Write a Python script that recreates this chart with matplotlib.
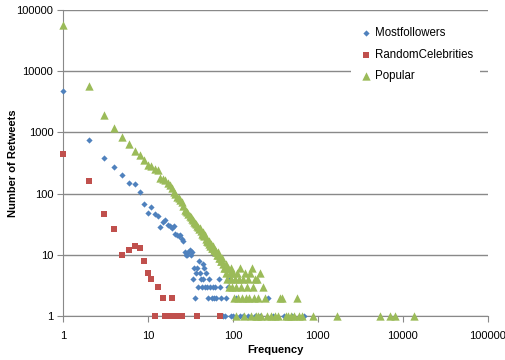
import matplotlib.pyplot as plt

plt.rcParams['font.family'] = ['Liberation Sans', 'DejaVu Sans']

# Mostfollowers (blue diamonds)
mf_freq = [1, 2, 3, 4, 5, 6, 7, 8, 9, 10, 11, 12, 13, 14, 15, 16, 17, 18, 19, 20,
           21, 22, 23, 24, 25, 26, 27, 28, 29, 30, 31, 32, 33, 34, 35, 36, 37, 38, 39, 40,
           41, 42, 43, 44, 45, 46, 47, 48, 50, 51, 52, 54, 56, 58, 60, 62, 64, 68, 70, 73,
           76, 80, 84, 87, 92, 96, 100, 110, 120, 130, 150, 180, 210, 256, 300, 400, 500, 685]
mf_count = [4700, 750, 380, 270, 205, 148, 142, 107, 67, 48, 60, 46, 43, 29, 35, 37, 31, 30, 28, 30,
            22, 21, 20, 21, 18, 17, 11, 10, 10, 11, 12, 10, 11, 4, 6, 2, 5, 6, 3, 8,
            5, 4, 3, 7, 4, 6, 3, 5, 3, 2, 4, 3, 2, 3, 2, 3, 2, 4, 3, 2,
            1, 1, 2, 3, 4, 1, 1, 2, 1, 1, 1, 1, 1, 2, 1, 1, 1, 1]

# RandomCelebrities (red squares)
rc_freq = [1, 2, 3, 4, 5, 6, 7, 8, 9, 10, 11, 13, 15, 19, 12, 16, 17, 18, 20, 21, 22, 24, 25, 38, 70]
rc_count = [450, 160, 47, 26, 10, 12, 14, 13, 8, 5, 4, 3, 2, 2, 1, 1, 1, 1, 1, 1, 1, 1, 1, 1, 1]

# Popular (green triangles)
pop_freq = [1, 2, 3, 4, 5, 6, 7, 8, 9, 10, 11, 12, 13, 14, 15, 16, 17, 18, 19, 20,
            21, 22, 23, 24, 25, 26, 27, 28, 29, 30, 31, 32, 33, 34, 35, 36, 37, 38, 39, 40,
            41, 42, 43, 44, 45, 46, 47, 48, 49, 50, 51, 52, 53, 54, 55, 56, 57, 58, 59, 60,
            61, 62, 63, 64, 65, 66, 67, 68, 70, 72, 73, 74, 76, 78, 80, 82, 84, 86, 88, 90,
            92, 94, 96, 98, 100, 102, 105, 108, 110, 112, 115, 118, 121, 124, 127, 130, 134, 138, 142, 145,
            150, 155, 158, 162, 168, 173, 178, 182, 186, 190, 195, 200, 207, 215, 227, 236, 250, 280, 310, 340,
            360, 380, 420, 450, 480, 530, 565, 600, 650, 880, 1690, 5400, 7000, 8100, 13500]
pop_count = [58000, 5800, 1950, 1180, 840, 656, 490, 423, 350, 290, 280, 250, 240, 183, 177, 167, 150, 137, 125, 107,
             98, 89, 85, 80, 73, 62, 55, 52, 50, 46, 44, 41, 39, 37, 34, 33, 32, 30, 29, 26,
             27, 25, 22, 24, 21, 20, 21, 18, 17, 17, 16, 15, 17, 14, 15, 13, 13, 14, 13, 12,
             12, 12, 11, 11, 10, 10, 11, 9, 9, 8, 8, 9, 7, 6, 6, 7, 5, 4, 6, 3,
             5, 4, 6, 3, 5, 2, 4, 3, 1, 5, 2, 4, 6, 3, 2, 4, 1, 5, 2, 3,
             4, 2, 5, 1, 6, 3, 2, 4, 1, 4, 1, 2, 5, 1, 3, 2, 1, 1, 1, 1,
             2, 2, 1, 1, 1, 1, 2, 1, 1, 1, 1, 1, 1, 1, 1]

blue = '#4F81BD'
red = '#C0504D'
green = '#9BBB59'
grid_col = '#898989'

fig = plt.figure(figsize=(5.06, 3.60), dpi=100)
ax = fig.add_axes([0.1245, 0.122, 0.8395, 0.850])

ax.scatter(mf_freq, mf_count, marker='D', s=10, color=blue, linewidths=0,
           label='Mostfollowers', zorder=3, clip_on=False)
ax.scatter(rc_freq, rc_count, marker='s', s=22, color=red, linewidths=0,
           label='RandomCelebrities', zorder=3, clip_on=False)
ax.scatter(pop_freq, pop_count, marker='^', s=36, color=green, linewidths=0,
           label='Popular', zorder=3, clip_on=False)

ax.set_xscale('log')
ax.set_yscale('log')
ax.set_xlim(1, 100000)
ax.set_ylim(1, 100000)
ax.minorticks_off()
ticks = [1, 10, 100, 1000, 10000, 100000]
tick_labels = ['1', '10', '100', '1000', '10000', '100000']
ax.set_xticks(ticks)
ax.set_xticklabels(tick_labels)
ax.set_yticks(ticks)
ax.set_yticklabels(tick_labels)

ax.yaxis.grid(True, color=grid_col, linewidth=1)
ax.set_axisbelow(True)
for s in ['top', 'right']:
    ax.spines[s].set_visible(False)
for s in ['left', 'bottom']:
    ax.spines[s].set_color(grid_col)
ax.tick_params(axis='both', direction='out', length=4, color=grid_col, labelsize=8)
ax.tick_params(axis='x', pad=7)
ax.tick_params(axis='y', pad=3)

ax.set_xlabel('Frequency', fontsize=8, fontweight='bold')
ax.set_ylabel('Number of Retweets', fontsize=8, fontweight='bold')
ax.xaxis.set_label_coords(0.5, -0.095)
ax.yaxis.set_label_coords(-0.106, 0.5)

leg = ax.legend(loc='upper right', bbox_to_anchor=(0.995, 0.985), fontsize=8.3, frameon=True,
                facecolor='white', edgecolor='white', framealpha=1, borderpad=0.6,
                labelspacing=0.8, handletextpad=0.1, handlelength=1.4, scatterpoints=1)
leg.get_frame().set_linewidth(0)

fig.savefig('out.png', dpi=100)
